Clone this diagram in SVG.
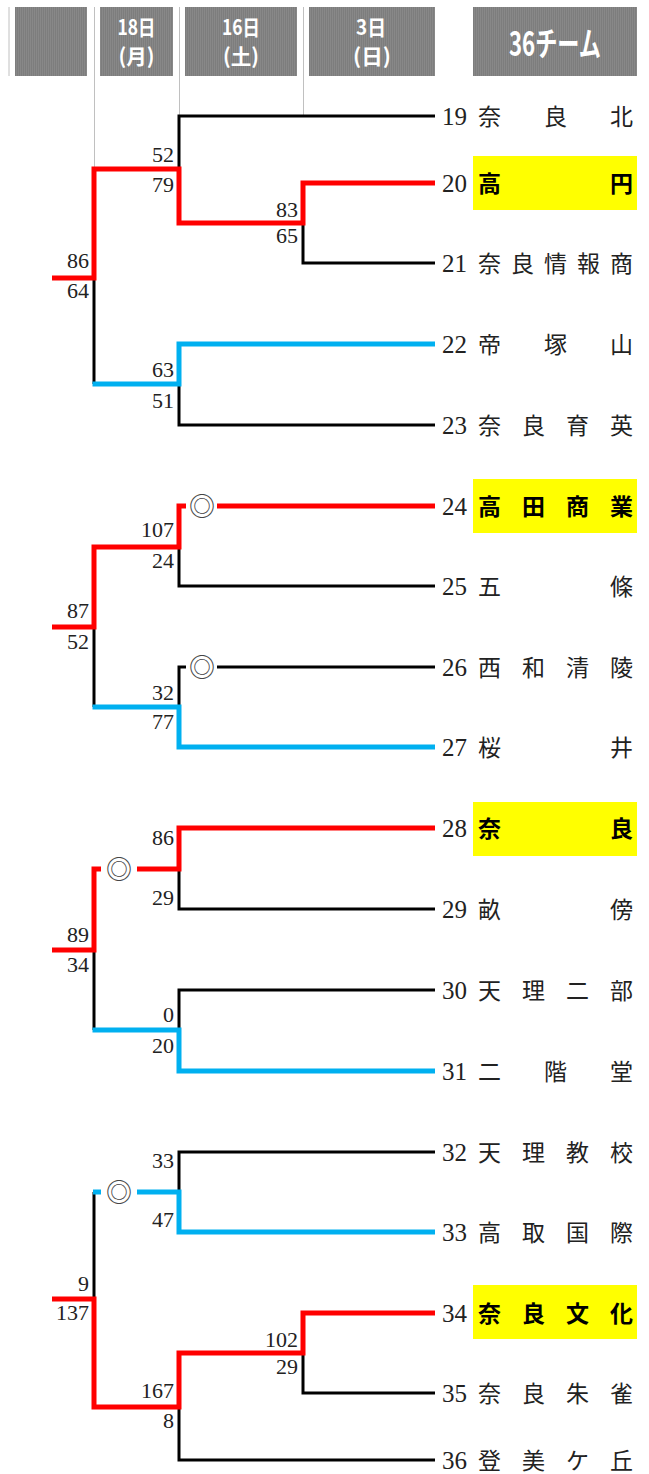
<svg xmlns="http://www.w3.org/2000/svg" width="649" height="1474" viewBox="0 0 649 1474">
<defs>
<pattern id="stripe" width="2" height="4" patternUnits="userSpaceOnUse">
<rect width="2" height="4" fill="#7d7d7d"/>
<rect width="1" height="4" fill="#888888"/>
</pattern>
<style>
.blk{fill:none;stroke:#000;stroke-width:3}
.red{fill:none;stroke:#ff0000;stroke-width:5}
.blu{fill:none;stroke:#00b0f0;stroke-width:5}
.grid{stroke:#c0c0c0;stroke-width:1;fill:none}
.hd{fill:url(#stripe)}
.ht{font-family:"Noto Sans CJK JP",sans-serif;font-weight:bold;fill:#fff;text-anchor:middle}
.num{font-family:"Liberation Serif",serif;font-size:25px;fill:#222}
.nm{font-family:"Noto Sans CJK JP",sans-serif;font-size:23px;fill:#222}
.hl .nm{font-weight:bold;fill:#000}
.hlbox{fill:#ffff00}
.sc{font-family:"Liberation Serif",serif;font-size:22px;fill:#222;text-anchor:end}
.mk{font-family:"Noto Sans CJK JP",sans-serif;font-size:26px;fill:#444;text-anchor:middle}
</style>
</defs>
<rect width="649" height="1474" fill="#fff"/>

<g id="grid-lines">
<line class="grid" x1="9" y1="7" x2="9" y2="76"/>
<line class="grid" x1="94.5" y1="7" x2="94.5" y2="167"/>
<line class="grid" x1="179.5" y1="7" x2="179.5" y2="115"/>
<line class="grid" x1="303.5" y1="7" x2="303.5" y2="115"/>
</g>

<g id="header-blank"><rect class="hd" x="15" y="7" width="72" height="69"/></g>
<g id="header-18"><rect class="hd" x="100" y="7" width="73" height="69"/>
<text class="ht" x="136.5" y="35" font-size="21" textLength="38" lengthAdjust="spacingAndGlyphs">18日</text>
<text class="ht" x="136.5" y="64" font-size="21" textLength="36" lengthAdjust="spacingAndGlyphs">(月)</text></g>
<g id="header-16"><rect class="hd" x="185" y="7" width="112" height="69"/>
<text class="ht" x="241" y="35" font-size="21" textLength="38" lengthAdjust="spacingAndGlyphs">16日</text>
<text class="ht" x="241" y="64" font-size="21" textLength="36" lengthAdjust="spacingAndGlyphs">(土)</text></g>
<g id="header-3"><rect class="hd" x="309" y="7" width="126" height="69"/>
<text class="ht" x="371" y="35" font-size="21" textLength="30" lengthAdjust="spacingAndGlyphs">3日</text>
<text class="ht" x="372" y="64" font-size="21" textLength="38" lengthAdjust="spacingAndGlyphs">(日)</text></g>
<g id="header-teams"><rect class="hd" x="473" y="7" width="164" height="69"/>
<text class="ht" x="555" y="56" font-size="33" textLength="92" lengthAdjust="spacingAndGlyphs">36チーム</text></g>

<g id="connectors">
<!-- group 1 -->
<polyline class="blk" points="435,116 179,116 179,169"/>
<polyline class="blk" points="303,223 303,263 435,263"/>
<polyline class="blk" points="94,278 94,384"/>
<polyline class="blk" points="179,384 179,425 435,425"/>
<polyline class="blu" points="92.5,384 179,384 179,344 435,344"/>
<polyline class="red" points="52,278 94,278 94,169 179,169 179,223 303,223 303,183 435,183"/>
<!-- group 2 -->
<polyline class="blk" points="179,547 179,586 435,586"/>
<polyline class="blk" points="94,627 94,707"/>
<polyline class="blk" points="186,667 179,667 179,707"/>
<line class="blk" x1="217" y1="667" x2="435" y2="667"/>
<polyline class="blu" points="92.5,707 179,707 179,747 435,747"/>
<polyline class="red" points="52,627 94,627 94,547 179,547 179,506 186,506"/>
<line class="red" x1="217" y1="506" x2="435" y2="506"/>
<!-- group 3 -->
<polyline class="blk" points="179,869 179,909 435,909"/>
<polyline class="blk" points="94,950 94,1030"/>
<polyline class="blk" points="179,1030 179,990 435,990"/>
<polyline class="blu" points="92.5,1030 179,1030 179,1071 435,1071"/>
<polyline class="red" points="52,950 94,950 94,869 101,869"/>
<polyline class="red" points="137,869 179,869 179,828 435,828"/>
<!-- group 4 -->
<polyline class="blk" points="435,1152 179,1152 179,1192"/>
<polyline class="blk" points="94,1192 94,1299"/>
<polyline class="blk" points="303,1353 303,1393 435,1393"/>
<polyline class="blk" points="179,1407 179,1460 435,1460"/>
<polyline class="blu" points="435,1232 179,1232 179,1192 137,1192"/>
<line class="blu" x1="93" y1="1192" x2="101" y2="1192"/>
<polyline class="red" points="52,1299 94,1299 94,1407 179,1407 179,1353 303,1353 303,1313 435,1313"/>
</g>

<g id="marks">
<text class="mk" x="202" y="516">◎</text>
<text class="mk" x="202" y="677">◎</text>
<text class="mk" x="119" y="879">◎</text>
<text class="mk" x="119" y="1202">◎</text>
</g>

<g id="scores">
<text class="sc" x="174" y="162">52</text>
<text class="sc" x="174" y="192">79</text>
<text class="sc" x="298" y="217">83</text>
<text class="sc" x="298" y="243">65</text>
<text class="sc" x="89" y="268">86</text>
<text class="sc" x="89" y="298">64</text>
<text class="sc" x="174" y="377">63</text>
<text class="sc" x="174" y="408">51</text>

<text class="sc" x="174" y="537">107</text>
<text class="sc" x="174" y="568">24</text>
<text class="sc" x="89" y="618">87</text>
<text class="sc" x="89" y="649">52</text>
<text class="sc" x="174" y="700">32</text>
<text class="sc" x="174" y="729">77</text>

<text class="sc" x="174" y="845">86</text>
<text class="sc" x="174" y="905">29</text>
<text class="sc" x="89" y="942">89</text>
<text class="sc" x="89" y="972">34</text>
<text class="sc" x="174" y="1022">0</text>
<text class="sc" x="174" y="1053">20</text>

<text class="sc" x="174" y="1168">33</text>
<text class="sc" x="174" y="1227">47</text>
<text class="sc" x="89" y="1291">9</text>
<text class="sc" x="89" y="1320">137</text>
<text class="sc" x="298" y="1347">102</text>
<text class="sc" x="298" y="1374">29</text>
<text class="sc" x="174" y="1398">167</text>
<text class="sc" x="174" y="1428">8</text>
</g>

<g id="team-19"><text class="num" x="442" y="125">19</text><text class="nm" x="478 544 610" y="125">奈良北</text></g>
<g id="team-20" class="hl"><rect class="hlbox" x="473" y="156" width="164" height="54"/><text class="num" x="442" y="192">20</text><text class="nm" x="478 610" y="192">高円</text></g>
<g id="team-21"><text class="num" x="442" y="272">21</text><text class="nm" x="478 511 544 577 610" y="272">奈良情報商</text></g>
<g id="team-22"><text class="num" x="442" y="353">22</text><text class="nm" x="478 544 610" y="353">帝塚山</text></g>
<g id="team-23"><text class="num" x="442" y="434">23</text><text class="nm" x="478 522 566 610" y="434">奈良育英</text></g>
<g id="team-24" class="hl"><rect class="hlbox" x="473" y="479" width="164" height="54"/><text class="num" x="442" y="515">24</text><text class="nm" x="478 522 566 610" y="515">高田商業</text></g>
<g id="team-25"><text class="num" x="442" y="595">25</text><text class="nm" x="478 610" y="595">五條</text></g>
<g id="team-26"><text class="num" x="442" y="676">26</text><text class="nm" x="478 522 566 610" y="676">西和清陵</text></g>
<g id="team-27"><text class="num" x="442" y="756">27</text><text class="nm" x="478 610" y="756">桜井</text></g>
<g id="team-28" class="hl"><rect class="hlbox" x="473" y="802" width="164" height="54"/><text class="num" x="442" y="837">28</text><text class="nm" x="478 610" y="837">奈良</text></g>
<g id="team-29"><text class="num" x="442" y="918">29</text><text class="nm" x="478 610" y="918">畝傍</text></g>
<g id="team-30"><text class="num" x="442" y="999">30</text><text class="nm" x="478 522 566 610" y="999">天理二部</text></g>
<g id="team-31"><text class="num" x="442" y="1080">31</text><text class="nm" x="478 544 610" y="1080">二階堂</text></g>
<g id="team-32"><text class="num" x="442" y="1161">32</text><text class="nm" x="478 522 566 610" y="1161">天理教校</text></g>
<g id="team-33"><text class="num" x="442" y="1241">33</text><text class="nm" x="478 522 566 610" y="1241">高取国際</text></g>
<g id="team-34" class="hl"><rect class="hlbox" x="473" y="1285" width="164" height="54"/><text class="num" x="442" y="1322">34</text><text class="nm" x="478 522 566 610" y="1322">奈良文化</text></g>
<g id="team-35"><text class="num" x="442" y="1402">35</text><text class="nm" x="478 522 566 610" y="1402">奈良朱雀</text></g>
<g id="team-36"><text class="num" x="442" y="1469">36</text><text class="nm" x="478 522 566 610" y="1469">登美ケ丘</text></g>
</svg>
